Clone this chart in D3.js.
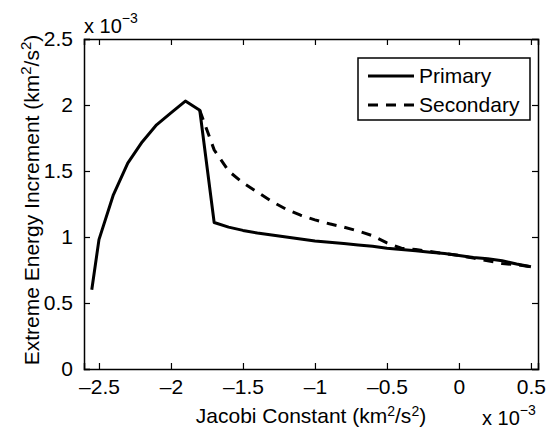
<!DOCTYPE html>
<html>
<head>
    <title>Extreme Energy Increment</title>
    <style>
        body { margin: 0; background: #fff; }
        text { font-family: "Liberation Sans", Arial, sans-serif; fill: #000; }
        .line { fill: none; stroke: #000; stroke-width: 3px; stroke-linejoin: round; }
    </style>
    <script src="https://d3js.org/d3.v7.min.js"></script>
</head>
<body>
    <div id="chart"></div>
    <script>
        // values in units of 1e-3
        const jacobi = [-2.55, -2.5, -2.4, -2.3, -2.2, -2.1, -2.0, -1.9, -1.8, -1.7, -1.6, -1.5, -1.4, -1.3, -1.2, -1.1, -1.0,
            -0.9, -0.8, -0.7, -0.6, -0.5, -0.4, -0.3, -0.2, -0.1, 0, 0.1, 0.2, 0.3, 0.4, 0.5];
        const primary = [0.60, 0.98, 1.32, 1.56, 1.72, 1.85, 1.94, 2.03, 1.96, 1.11, 1.075, 1.05, 1.03, 1.015, 1.0, 0.985, 0.97,
            0.96, 0.95, 0.94, 0.93, 0.915, 0.905, 0.895, 0.885, 0.875, 0.86, 0.845, 0.835, 0.82, 0.795, 0.775];
        // secondary starts at the primary's knee (-1.8)
        const secondary = [null, null, null, null, null, null, null, null, 1.96, 1.66, 1.50, 1.41, 1.34, 1.27, 1.21, 1.165, 1.13,
            1.10, 1.075, 1.045, 1.01, 0.955, 0.915, 0.905, 0.89, 0.875, 0.86, 0.84, 0.82, 0.80, 0.79, 0.775];
        const xTicks = [-2.5, -2, -1.5, -1, -0.5, 0, 0.5];
        const yTicks = [0, 0.5, 1, 1.5, 2, 2.5];
        const seriesNames = ["Primary", "Secondary"];

        const width = 552, height = 431;
        const margin = {top: 39, right: 14, bottom: 62, left: 84};
        const w = width - margin.left - margin.right;
        const h = height - margin.top - margin.bottom;

        const x = d3.scaleLinear().domain([-2.604, 0.549]).range([0, w]);
        const y = d3.scaleLinear().domain([0, 2.5]).range([h, 0]);

        const svg = d3.select("#chart").append("svg")
            .attr("width", width)
            .attr("height", height);
        const g = svg.append("g")
            .attr("transform", `translate(${margin.left},${margin.top})`);

        const fmt = d => d === 0 ? "0" : (d < 0 ? "\u2013" + Math.abs(d) : String(d));

        // inward ticks on all four sides
        g.append("g").attr("transform", `translate(0,${h})`)
            .call(d3.axisBottom(x).tickValues(xTicks).tickSize(-6).tickPadding(10).tickFormat(fmt));
        g.append("g")
            .call(d3.axisTop(x).tickValues(xTicks).tickSize(-6).tickFormat(""));
        g.append("g")
            .call(d3.axisLeft(y).tickValues(yTicks).tickSize(-6).tickPadding(11).tickFormat(d => String(d)));
        g.append("g").attr("transform", `translate(${w},0)`)
            .call(d3.axisRight(y).tickValues(yTicks).tickSize(-6).tickFormat(""));

        g.selectAll(".domain").attr("stroke", "#000").attr("stroke-width", 1.5);
        g.selectAll(".tick line").attr("stroke", "#000").attr("stroke-width", 1.2);
        g.selectAll(".tick text").attr("font-size", 21).attr("font-family", "Liberation Sans, Arial, sans-serif");

        const line = d3.line()
            .defined(d => d[1] != null)
            .x(d => x(d[0]))
            .y(d => y(d[1]));

        g.append("path").attr("class", "line")
            .attr("d", line(jacobi.map((v, i) => [v, primary[i]])));
        g.append("path").attr("class", "line")
            .attr("stroke-dasharray", "10,8")
            .attr("d", line(jacobi.map((v, i) => [v, secondary[i]])));

        // legend
        const lg = g.append("g").attr("transform", `translate(${358 - margin.left},${58 - margin.top})`);
        lg.append("rect").attr("width", 172).attr("height", 62)
            .attr("fill", "#fff").attr("stroke", "#000").attr("stroke-width", 1.5);
        seriesNames.forEach((name, i) => {
            const yy = 18 + i * 29;
            lg.append("line").attr("class", "line")
                .attr("x1", 10).attr("x2", 56).attr("y1", yy).attr("y2", yy)
                .attr("stroke-dasharray", i === 1 ? "10,8" : null);
            lg.append("text").attr("x", 61).attr("y", yy + 7)
                .attr("font-size", 21).text(name);
        });

        // y label
        const yl = svg.append("text")
            .attr("transform", `translate(39,${margin.top + h / 2 - 4}) rotate(-90)`)
            .attr("text-anchor", "middle")
            .attr("font-size", 21);
        yl.append("tspan").text("Extreme Energy Increment (km");
        yl.append("tspan").attr("dy", -8).attr("font-size", 15).text("2");
        yl.append("tspan").attr("dy", 8).text("/s");
        yl.append("tspan").attr("dy", -8).attr("font-size", 15).text("2");
        yl.append("tspan").attr("dy", 8).text(")");

        // x label
        const xl = svg.append("text")
            .attr("x", margin.left + w / 2).attr("y", 423)
            .attr("text-anchor", "middle")
            .attr("font-size", 21);
        xl.append("tspan").text("Jacobi Constant (km");
        xl.append("tspan").attr("dy", -7).attr("font-size", 14).text("2");
        xl.append("tspan").attr("dy", 7).text("/s");
        xl.append("tspan").attr("dy", -7).attr("font-size", 14).text("2");
        xl.append("tspan").attr("dy", 7).text(")");

        // exponent markers
        function exponent(px, py) {
            const t = svg.append("text").attr("x", px).attr("y", py).attr("font-size", 20);
            t.append("tspan").text("x 10");
            t.append("tspan").attr("dy", -10).attr("font-size", 14).text("\u22123");
        }
        exponent(84, 33);
        exponent(482, 425);
    </script>
</body>
</html>
